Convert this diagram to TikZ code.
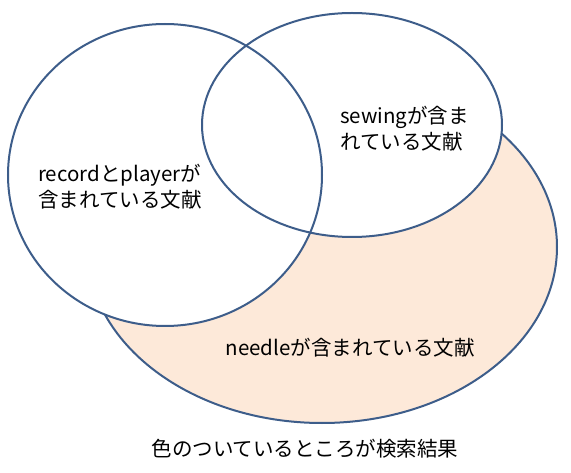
\documentclass[tikz,border=0pt]{standalone}
\usepackage{fontspec}
\usepackage{xcolor}
\newfontfamily\jpfont{Noto Sans CJK JP}
\definecolor{vennedge}{HTML}{3D5D8A}
\definecolor{vennpeach}{HTML}{FDE9D9}

\begin{document}
\begin{tikzpicture}[x=1pt, y=-1pt,
    venn/.style={draw=vennedge, line width=2pt},
    txt/.style={font=\jpfont\fontsize{20.5}{26}\selectfont, inner sep=0pt, align=left}]

        % Canvas
        \useasboundingbox (0,0) rectangle (571,473);

        % needle set (coloured)
        \path[venn, fill=vennpeach] (322,247) ellipse [x radius=235, y radius=176];

        % record/player and sewing sets
        \fill[white] (165,175) ellipse [x radius=157, y radius=151];
        \fill[white] (352,125) ellipse [x radius=150, y radius=112];
        \draw[venn] (165,175) ellipse [x radius=157, y radius=151];
        \draw[venn] (352,125) ellipse [x radius=150, y radius=112];

        % Set labels
        \node[txt, anchor=west] (recplay) at (38,187) {recordとplayerが\\含まれている文献};
        \node[txt, anchor=west] (sewing) at (340,129) {sewingが含ま\\れている文献};
        \node[txt] (needle) at (350,348) {needleが含まれている文献};

        % Caption
        \node[txt] (caption) at (305,449) {色のついているところが検索結果};

\end{tikzpicture}
\end{document}
